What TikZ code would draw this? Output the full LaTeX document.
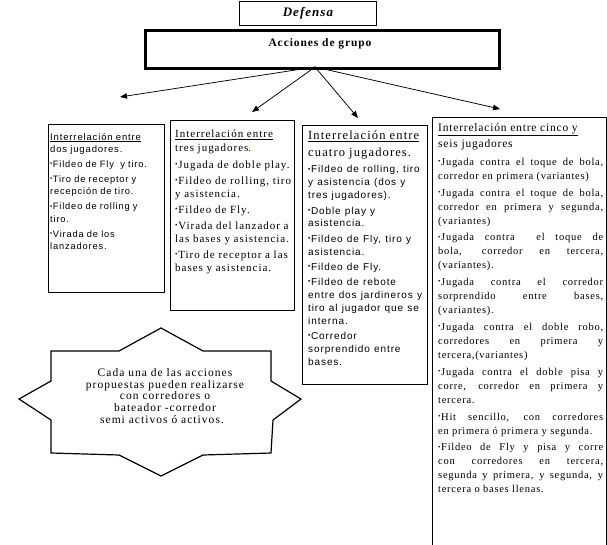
\documentclass[tikz,border=0pt]{standalone}
\usepackage{fontspec}
\usepackage{graphicx}
\setmainfont{Liberation Serif}
\newfontfamily\tnr[LetterSpace=9]{Liberation Serif}
\newfontfamily\tnrj[LetterSpace=7]{Liberation Serif}
\newfontfamily\tnrb[LetterSpace=8]{Liberation Serif}
\newfontfamily\arl[LetterSpace=9]{Liberation Sans}
\usetikzlibrary{arrows.meta}
\newcommand\bul{\raisebox{0.35ex}{\scalebox{0.65}{•}}\hspace{0.6pt}}
\newcommand\pskip[1][3pt]{\par\vskip#1}
\begin{document}
\begin{tikzpicture}[x=1pt,y=-1pt,
  frame/.style={draw, line width=0.9pt, inner sep=0pt, anchor=north west},
  txt/.style={anchor=north west, inner sep=0pt, align=left, text width=#1},
  jtxt/.style={anchor=north west, inner sep=0pt, align=justify, text width=#1},
  arr/.style={line width=0.75pt, -{Triangle[length=7pt,width=5.5pt]}},
  starline/.style={line width=1.2pt, line join=miter}
]
\fill[white] (0,0) rectangle (607,544);
\useasboundingbox (0,0) rectangle (607,544);

% header boxes
\node[frame, minimum width=137pt, minimum height=24pt,
      font=\tnrb\bfseries\itshape\fontsize{13}{15}\selectfont] (def) at (239,1) {Defensa};
\node[frame, line width=3pt, minimum width=354pt, minimum height=38pt] (acc) at (144,29) {};
\node[font=\tnrb\bfseries\fontsize{11.5}{14}\selectfont] (acct) at (320,44) {Acciones de grupo};

% arrows
\coordinate (o) at (315,67);
\coordinate (t1) at (120,97);
\coordinate (t2) at (252,112);
\coordinate (t3) at (358,118);
\coordinate (t4) at (500,109);
\draw[arr] (o) -- (t1);
\draw[arr] (o) -- (t2);
\draw[arr] (o) -- (t3);
\draw[arr] (o) -- (t4);

% frames
\node[frame, minimum width=116pt, minimum height=168pt] (f1) at (48,124) {};
\node[frame, minimum width=124pt, minimum height=190pt] (f2) at (170,120) {};
\node[frame, minimum width=125pt, minimum height=259pt] (f3) at (302,125) {};
\node[frame, minimum width=174pt, minimum height=440pt] (f4) at (432,117) {};

% box 1
\node[txt=125pt, font=\arl\fontsize{9.5}{12}\selectfont] (x1) at (50,133) {%
\underline{Interrelación entre}\\dos jugadores.\pskip
{\fontsize{9.3}{12.2}\selectfont
\bul Fildeo de Fly\ \ y tiro.\pskip
\bul Tiro de receptor y\\recepción de tiro.\pskip
\bul Fildeo de rolling y\\tiro.\pskip
\bul Virada de los\\lanzadores.\par}};

% box 2
\node[txt=130pt, font=\tnr\fontsize{11}{13.2}\selectfont] (x2) at (175,130) {%
\underline{Interrelación entre}\\tres jugadores\textcolor{blue}{.}\pskip[3.8pt]
\bul Jugada de doble play.\pskip[2.8pt]
\bul Fildeo de rolling, tiro\\y asistencia.\pskip[2.8pt]
\bul Fildeo de Fly.\pskip[2.8pt]
\bul Virada del lanzador a\\las bases y asistencia.\pskip[2.8pt]
\bul Tiro de receptor a las\\bases y asistencia.\par};

% box 3
\node[txt=130pt, font=\tnr\fontsize{12.5}{17}\selectfont] (x3) at (308,131) {%
\underline{Interrelación entre}\\cuatro jugadores.\pskip[3.2pt]
{\arl\fontsize{10}{12.9}\selectfont
\bul Fildeo de rolling, tiro\\y asistencia (dos y\\tres jugadores).\pskip[2.4pt]
\bul Doble play y\\asistencia.\pskip[2.4pt]
\bul Fildeo de Fly, tiro y\\asistencia.\pskip[2.4pt]
\bul Fildeo de Fly.\pskip[2.4pt]
\bul Fildeo de rebote\\entre dos jardineros y\\tiro al jugador que se\\interna.\pskip[2.4pt]
\bul Corredor\\sorprendido entre\\bases.\par}};

% box 4
\node[jtxt=165pt, font=\tnrj\fontsize{11.5}{16}\selectfont] (x4) at (438,123) {%
\tolerance=10000\hyphenpenalty=10000
\underline{Interrelación entre cinco y}\newline seis jugadores\pskip[4pt]
{\fontsize{10.5}{14}\selectfont\tolerance=10000\hyphenpenalty=10000
\bul Jugada contra el toque de bola, \linebreak corredor en primera (variantes)\pskip[2.8pt]
\bul Jugada contra el toque de bola, \linebreak corredor en primera y segunda, \linebreak (variantes)\pskip[2.8pt]
\bul Jugada contra\ \ el toque de \linebreak bola, corredor en tercera, \linebreak (variantes).\pskip[2.8pt]
\bul Jugada contra el corredor \linebreak sorprendido entre bases, \linebreak (variantes).\pskip[2.8pt]
\bul Jugada contra el doble robo, \linebreak corredores en primera y \linebreak tercera,(variantes)\pskip[2.8pt]
\bul Jugada contra el doble pisa y \linebreak corre, corredor en primera y \linebreak tercera.\pskip[2.8pt]
\bul Hit sencillo, con corredores \linebreak en primera ó primera y segunda.\pskip[2.8pt]
\bul Fildeo de Fly y pisa y corre \linebreak con corredores en tercera, \linebreak segunda y primera, y segunda, y \linebreak tercera o bases llenas.\par}};

% star
\draw[starline] (161,328) -- (203,351) -- (271,351) -- (271,381) -- (301,399)
  -- (273,420) -- (271,453) -- (203,455) -- (161,476) -- (119,455) -- (51,453)
  -- (51,420) -- (19,399) -- (51,381) -- (51,351) -- (119,351) -- cycle;
\node[align=center, font=\tnr\fontsize{11.5}{11.8}\selectfont] (st) at (165,396) {%
Cada una de las acciones\\
propuestas pueden realizarse\\
con corredores o\hspace*{20pt}\\
bateador -corredor\hspace*{26pt}\\
semi activos ó activos.\hspace*{6pt}};
\end{tikzpicture}
\end{document}
